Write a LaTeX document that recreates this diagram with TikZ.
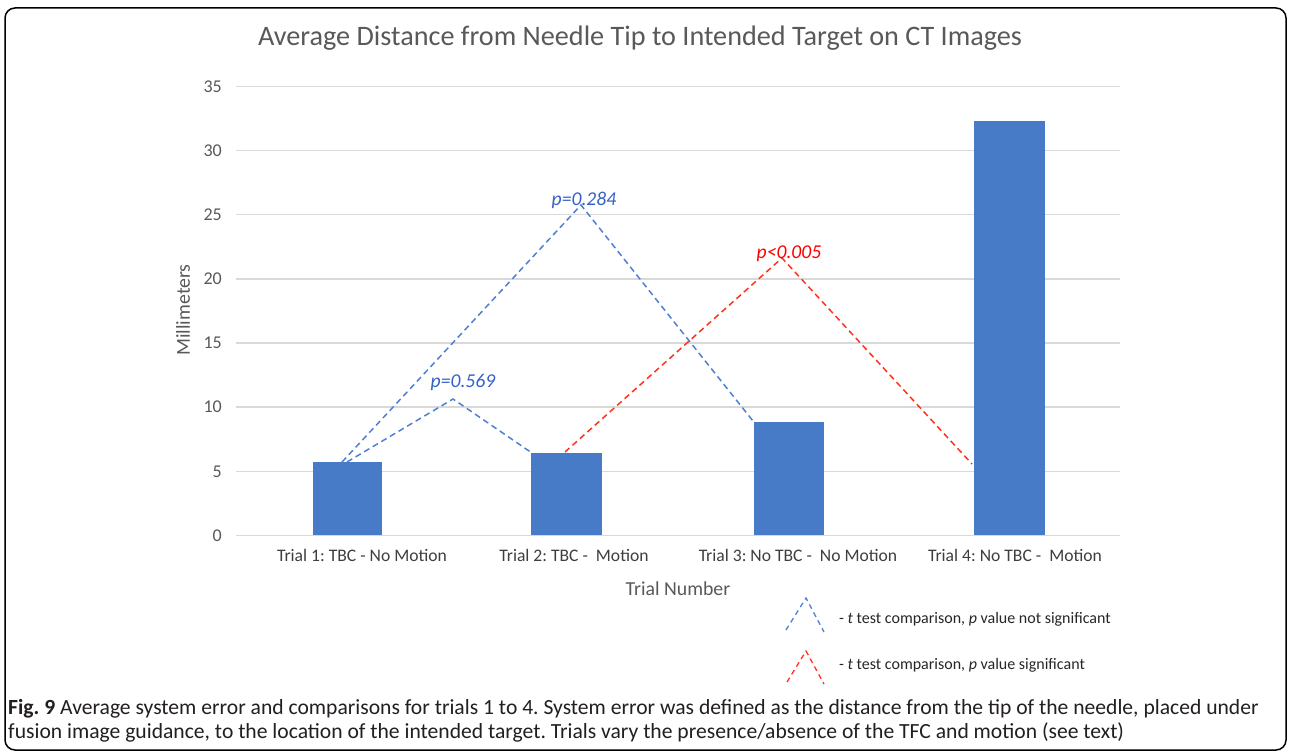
\documentclass[tikz,border=0pt]{standalone}
\usepackage{fontspec}
\setmainfont{Carlito}
\frenchspacing
\definecolor{barblue}{RGB}{72,123,199}
\definecolor{gridgray}{RGB}{217,217,217}
\definecolor{axgray}{RGB}{89,89,89}
\definecolor{lineblue}{RGB}{80,128,210}
\definecolor{txtblue}{RGB}{52,98,200}
\definecolor{linered}{RGB}{255,50,30}
\definecolor{capgray}{RGB}{35,31,32}
\tikzset{
  gridline/.style={draw=gridgray,line width=1.5pt},
  barbox/.style={fill=barblue,draw=none,inner sep=0pt,anchor=south},
  bluedash/.style={draw=lineblue,line width=1.5pt,dash pattern=on 6pt off 4pt},
  reddash/.style={draw=linered,line width=1.5pt,dash pattern=on 6pt off 4pt},
  ticklab/.style={anchor=east,text=axgray,font=\fontsize{18}{20}\selectfont,inner sep=0pt},
  catlab/.style={text=axgray!70!black,font=\fontsize{17.6}{20}\selectfont,inner sep=0pt},
  axtitle/.style={text=axgray,font=\fontsize{19.8}{22}\selectfont,inner sep=0pt},
  plab/.style={font=\fontsize{19.6}{22}\selectfont\itshape,inner sep=0pt},
  legtext/.style={anchor=west,text=black!85,font=\fontsize{16}{18}\selectfont,inner sep=0pt},
  captext/.style={anchor=base west,text=capgray,font=\fontsize{21.6}{24}\selectfont,inner sep=0pt}
}
\begin{document}
\begin{tikzpicture}[x=1pt,y=-1pt]
\useasboundingbox (0,0) rectangle (1290,754);
\fill[white] (0,0) rectangle (1290,754);
\draw[line width=1.5pt,rounded corners=10pt] (5,8) rectangle (1286,750);
\node[text=axgray,font=\fontsize{28.2}{32}\selectfont,inner sep=0pt] (title) at (640,38) {Average Distance from Needle Tip to Intended Target on CT Images};
% grid and ticks
\foreach \v in {0,5,...,35}{
  \draw[gridline] (236,{535.5-12.83*\v}) -- (1120,{535.5-12.83*\v});
  \node[ticklab] (tick\v) at (222,{535.5-12.83*\v}) {\v};
}
% bars
\node[barbox,minimum width=69pt,minimum height=73.1pt] (b1) at (347.5,535.5) {};
\node[barbox,minimum width=71pt,minimum height=82.1pt] (b2) at (566.5,535.5) {};
\node[barbox,minimum width=70pt,minimum height=112.9pt] (b3) at (789,535.5) {};
\node[barbox,minimum width=71pt,minimum height=414.4pt] (b4) at (1009.5,535.5) {};
% category labels
\node[catlab] (c1) at (362,555) {Trial 1: TBC - No Motion};
\node[catlab] (c2) at (574,555) {Trial 2: TBC - \ Motion};
\node[catlab] (c3) at (798,555) {Trial 3: No TBC - \ No Motion};
\node[catlab] (c4) at (1015,555) {Trial 4: No TBC - \ Motion};
\node[axtitle] (xt) at (678,589) {Trial Number};
\node[axtitle,rotate=90] (yt) at (183,310) {Millimeters};
% comparison lines
\coordinate (a0) at (347,462);
\coordinate (a1) at (453,399);
\coordinate (a2) at (532,453);
\coordinate (q0) at (342,462);
\coordinate (q1) at (581,205);
\coordinate (q2) at (753,421);
\coordinate (r0) at (565,452);
\coordinate (r1) at (782,258);
\coordinate (r2) at (972,464);
\draw[bluedash] (a0) -- (a1) -- (a2);
\draw[bluedash] (q0) -- (q1) -- (q2);
\draw[reddash] (r0) -- (r1) -- (r2);
\node[plab,text=txtblue] (p1) at (463,382) {p=0.569};
\node[plab,text=txtblue] (p2) at (584,200) {p=0.284};
\node[plab,text=red] (p3) at (789,254) {p<0.005};
% legend
\coordinate (lb0) at (786,630);
\coordinate (lb1) at (806,598);
\coordinate (lb2) at (824,632);
\coordinate (lr0) at (787,682);
\coordinate (lr1) at (806,651);
\coordinate (lr2) at (824,684);
\draw[bluedash,line width=1.3pt,dash pattern=on 5pt off 4pt] (lb0) -- (lb1) -- (lb2);
\draw[reddash,line width=1.3pt,dash pattern=on 5pt off 4pt] (lr0) -- (lr1) -- (lr2);
\node[legtext] (l1) at (839,619) {- \textit{t} test comparison, \textit{p} value not significant};
\node[legtext] (l2) at (839,665) {- \textit{t} test comparison, \textit{p} value significant};
% caption
\node[captext] (cap1) at (8,714) {\textbf{Fig. 9} Average system error and comparisons for trials 1 to 4. System error was defined as the distance from the tip of the needle, placed under};
\node[captext] (cap2) at (8,738) {fusion image guidance, to the location of the intended target. Trials vary the presence/absence of the TFC and motion (see text)};
\end{tikzpicture}
\end{document}
